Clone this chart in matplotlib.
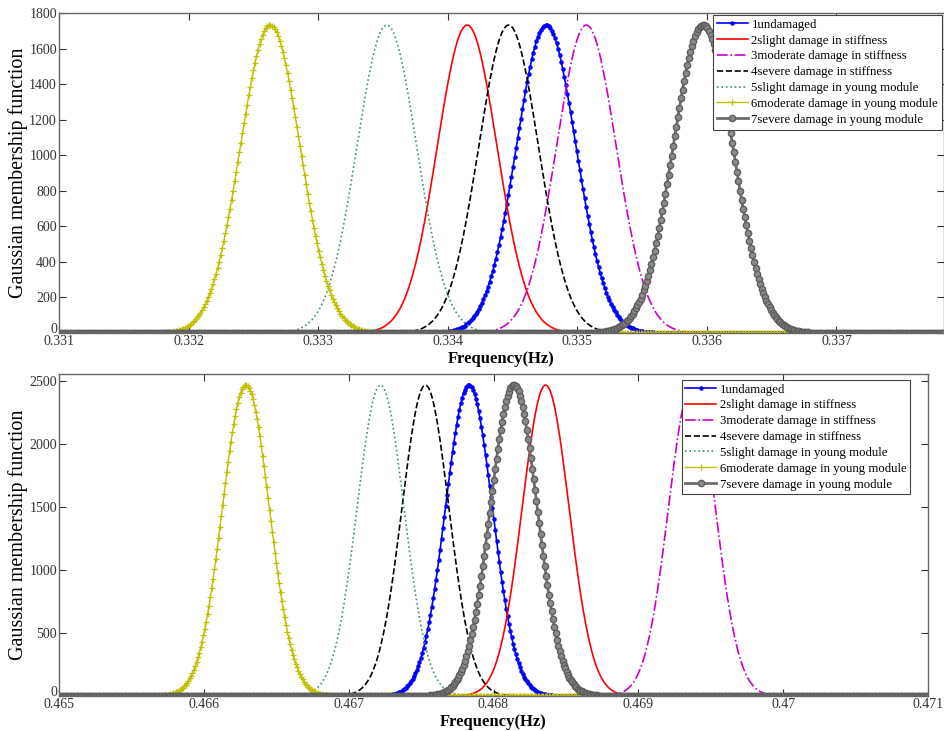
import numpy as np
import matplotlib
matplotlib.use("Agg")
import matplotlib.pyplot as plt

plt.rcParams['font.family'] = ['Liberation Serif', 'DejaVu Serif']

labels = ["1undamaged", "2slight damage in stiffness", "3moderate damage in stiffness",
          "4severe damage in stiffness", "5slight damage in young module",
          "6moderate damage in young module", "7severe damage in young module"]

# Gaussian membership functions: centres (Hz) and spread for each case
top_means = [0.33476, 0.33415, 0.33507, 0.33447, 0.33353, 0.33263, 0.33597]
top_sigma = 0.0002303
bot_means = [0.46783, 0.46836, 0.46937, 0.46753, 0.46722, 0.46629, 0.46814]
bot_sigma = 0.0001617

top_xticks = [0.331, 0.332, 0.333, 0.334, 0.335, 0.336, 0.337]
top_xticklabels = ["0.331", "0.332", "0.333", "0.334", "0.335", "0.336", "0.337"]
top_yticks = [0, 200, 400, 600, 800, 1000, 1200, 1400, 1600, 1800]
bot_xticks = [0.465, 0.466, 0.467, 0.468, 0.469, 0.470, 0.471]
bot_xticklabels = ["0.465", "0.466", "0.467", "0.468", "0.469", "0.47", "0.471"]
bot_yticks = [0, 500, 1000, 1500, 2000, 2500]

styles = [
    dict(color='#0000ff', ls='-', lw=1.2, marker='.', ms=4.5),
    dict(color='#ff0000', ls='-', lw=1.2),
    dict(color='#cc00cc', ls='-.', lw=1.2),
    dict(color='#000000', ls='--', lw=1.2),
    dict(color='#3a8f80', ls=':', lw=1.2),
    dict(color='#c0c000', ls='-', lw=1.0, marker='+', ms=5, mew=0.9),
    dict(color='#6e6e6e', ls='-', lw=2.0, marker='o', ms=4.5, mfc='#8a8a8a', mec='#5e5e5e', mew=1.0),
]

fig = plt.figure(figsize=(9.45, 7.31), dpi=100)
ax1 = fig.add_axes([59/945, 1-333/731, (944-59)/945, (333-13)/731])
ax2 = fig.add_axes([59/945, 1-696/731, (928-59)/945, (696-374)/731])


def draw(ax, means, sigma, xlim, step):
    x = np.arange(xlim[0], xlim[1] + step / 2, step)
    for i, (m, st) in enumerate(zip(means, styles)):
        y = np.exp(-0.5 * ((x - m) / sigma) ** 2) / (sigma * np.sqrt(2 * np.pi))
        ax.plot(x, y, label=labels[i], **st)


draw(ax1, top_means, top_sigma, (0.331, 0.33783), 0.000012)
draw(ax2, bot_means, bot_sigma, (0.465, 0.471), 0.0000095)

ax1.set_xlim(0.331, 0.33783)
ax1.set_ylim(0, 1800)
ax1.set_xticks(top_xticks)
ax1.set_xticklabels(top_xticklabels)
ax1.set_yticks(top_yticks)

ax2.set_xlim(0.465, 0.471)
ax2.set_ylim(0, 2555)
ax2.set_xticks(bot_xticks)
ax2.set_xticklabels(bot_xticklabels)
ax2.set_yticks(bot_yticks)

legend_anchor = [(1.0, 1.0), (0.982, 0.988)]
for ax, anc in zip((ax1, ax2), legend_anchor):
    ax.tick_params(direction='in', top=True, right=True, length=5, width=0.8,
                   colors='#333333', labelsize=10, pad=1.5)
    for sp in ax.spines.values():
        sp.set_color('#666666')
        sp.set_linewidth(1.0)
    ax.get_yticklabels()[0].set_verticalalignment('baseline')
    ax.set_ylabel("Gaussian membership function", fontsize=14.5, labelpad=1)
    ax.set_xlabel("Frequency(Hz)", fontsize=12, fontweight='bold', labelpad=2)
    leg = ax.legend(loc='upper right', bbox_to_anchor=anc, fontsize=9.2, frameon=True,
                    fancybox=False, edgecolor='#444444', framealpha=1, borderaxespad=0.15,
                    handlelength=2.4, labelspacing=0.3, borderpad=0.3,
                    handletextpad=0.3, markerscale=1.0)
    leg.get_frame().set_linewidth(0.8)

fig.savefig("out.png", dpi=100)
